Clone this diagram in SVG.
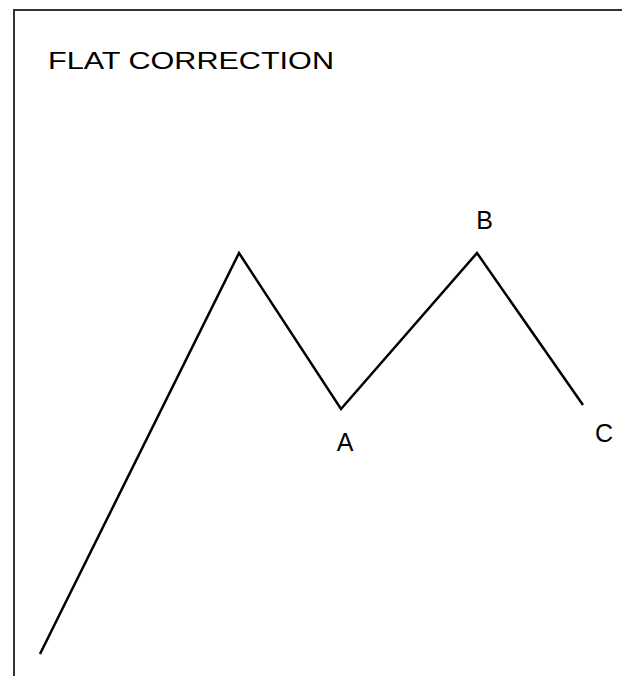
<svg xmlns="http://www.w3.org/2000/svg" width="622" height="676" viewBox="0 0 622 676">
<style>
.frame{fill:none;stroke:#333;stroke-width:2}
.wave{fill:none;stroke:#000;stroke-width:2.5;stroke-linejoin:miter}
.t{font-family:"Liberation Sans",Arial,sans-serif;font-size:25px;fill:#000}
.title{font-family:"Liberation Sans",Arial,sans-serif;font-size:23.5px;fill:#000}
</style>
<rect width="622" height="676" fill="#fff"/>
<g id="frame"><path class="frame" d="M14,676 V10 H622"/></g>
<g id="title"><text class="title" x="48" y="68.5" textLength="286" lengthAdjust="spacingAndGlyphs">FLAT CORRECTION</text></g>
<g id="connectors"><polyline class="wave" points="40,654 239,253 341,409 477,253 583,405"/></g>
<g id="labelA"><text class="t" x="345" y="451" text-anchor="middle">A</text></g>
<g id="labelB"><text class="t" x="484.5" y="228.5" text-anchor="middle">B</text></g>
<g id="labelC"><text class="t" x="604" y="442" text-anchor="middle">C</text></g>
</svg>
